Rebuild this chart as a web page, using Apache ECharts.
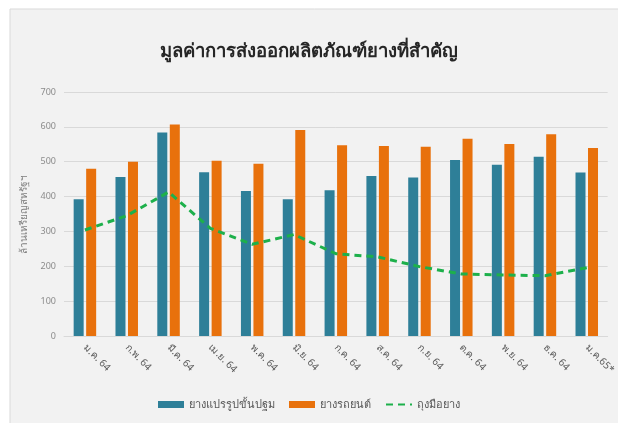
<!DOCTYPE html>
<html>
<head>
<meta charset="utf-8">
<script src="https://cdn.jsdelivr.net/npm/echarts@6/dist/echarts.min.js"></script>
<style>
  html, body { margin: 0; padding: 0; background: #fff; }
  #chart { width: 618px; height: 423px; }
</style>
</head>
<body>
<div id="chart"></div>
<script>
// เดือน
var months = ['ม.ค. 64', 'ก.พ. 64', 'มี.ค. 64', 'เม.ย. 64', 'พ.ค. 64', 'มิ.ย. 64', 'ก.ค. 64',
  'ส.ค. 64', 'ก.ย. 64', 'ต.ค. 64', 'พ.ย. 64', 'ธ.ค. 64', 'ม.ค.65*']
// ยางแปรรูปขั้นปฐม
var primaryRubber = [392, 456, 584, 470, 416, 392, 418, 459, 455, 505, 491, 514, 469]
// ยางรถยนต์
var tyres = [480, 500, 607, 503, 494, 591, 547, 545, 543, 566, 551, 579, 539]
// ถุงมือยาง
var gloves = [304, 345, 413, 309, 263, 291, 236, 227, 199, 178, 175, 173, 196]

var font = 'Tahoma, "Noto Sans", sans-serif'

var myChart = echarts.init(document.getElementById('chart'))
var option = {
  backgroundColor: '#ffffff',
  textStyle: { fontFamily: font },
  graphic: [{
    type: 'rect',
    shape: { x: 10, y: 9, width: 620, height: 430 },
    style: { fill: '#f2f2f2', stroke: '#d9d9d9', lineWidth: 1 },
    z: -10
  }],
  title: {
    text: 'มูลค่าการส่งออกผลิตภัณฑ์ยางที่สำคัญ',
    left: 'center',
    top: 37,
    textStyle: { fontSize: 18.5, fontWeight: 'bold', color: '#262626', fontFamily: font }
  },
  legend: {
    bottom: 8,
    left: 'center',
    itemWidth: 26,
    itemHeight: 7,
    itemGap: 14,
    textStyle: { fontSize: 11, color: '#595959', fontFamily: font },
    data: [
      { name: 'ยางแปรรูปขั้นปฐม', icon: 'rect' },
      { name: 'ยางรถยนต์', icon: 'rect' },
      { name: 'ถุงมือยาง', itemStyle: { opacity: 0 } }
    ]
  },
  grid: {
    left: 64,
    right: 8,
    top: 92,
    bottom: 87
  },
  xAxis: {
    type: 'category',
    data: months,
    axisLine: { lineStyle: { color: '#d9d9d9' } },
    axisTick: { show: false },
    axisLabel: { rotate: -45, color: '#595959', fontSize: 10, margin: 10, fontFamily: font }
  },
  yAxis: {
    type: 'value',
    min: 0,
    max: 700,
    interval: 100,
    name: 'ล้านเหรียญสหรัฐฯ',
    nameLocation: 'middle',
    nameGap: 31,
    nameTextStyle: { color: '#7f7f7f', fontSize: 10, fontFamily: font },
    axisLabel: { color: '#8c8c8c', fontSize: 9, margin: 8 },
    splitLine: { lineStyle: { color: '#d9d9d9' } }
  },
  series: [
    {
      name: 'ยางแปรรูปขั้นปฐม',
      type: 'bar',
      barWidth: 10,
      barGap: '25%',
      itemStyle: { color: '#2e7f98' },
      data: primaryRubber
    },
    {
      name: 'ยางรถยนต์',
      type: 'bar',
      barWidth: 10,
      itemStyle: { color: '#e8710c' },
      data: tyres
    },
    {
      name: 'ถุงมือยาง',
      type: 'line',
      symbol: 'none',
      lineStyle: { color: '#1db04b', width: 3, type: [7, 5] },
      itemStyle: { color: '#1db04b' },
      data: gloves
    }
  ]
}
myChart.setOption(option)
</script>
</body>
</html>
